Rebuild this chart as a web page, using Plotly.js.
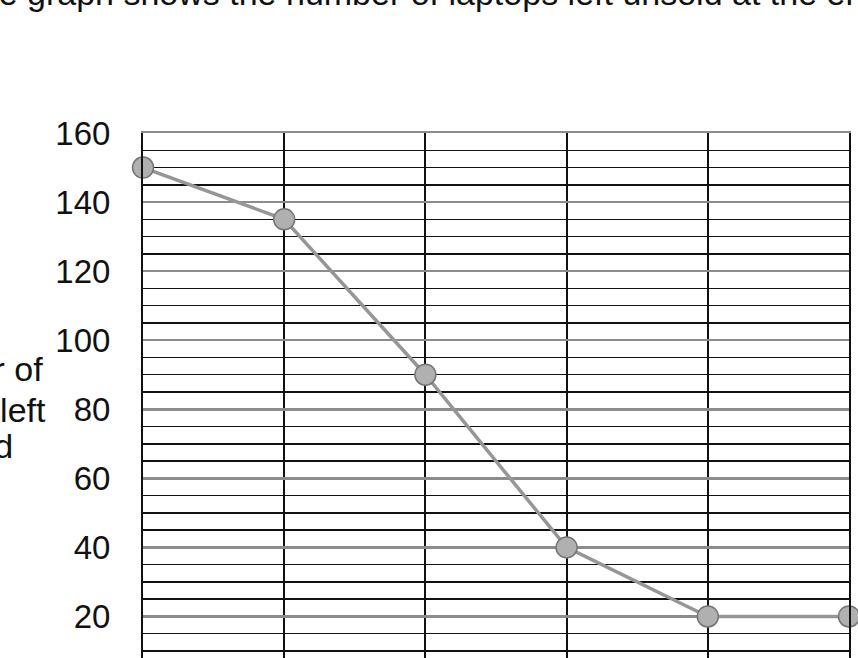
<!DOCTYPE html>
<html>
<head>
<meta charset="utf-8">
<script src="https://cdn.plot.ly/plotly-3.0.1.min.js"></script>
<style>
html, body { margin: 0; padding: 0; background: #fff; overflow: hidden; }
#chart { width: 858px; height: 658px; }
</style>
</head>
<body>
<div id="chart"></div>
<script>
// ---- data ----
const periods = [0, 1, 2, 3, 4, 5];
const laptopsUnsold = [150, 135, 90, 40, 20, 20];
const yTickValues = [20, 40, 60, 80, 100, 120, 140, 160];
const yTitleLines = ["Number of", "laptops left", "unsold"];
const captionText = "The graph shows the number of laptops left unsold at the end of each";

// ---- layout geometry ----
const W = 858, H = 658;
const M = { l: 143, r: 9, t: 133, b: 0 };
const plotW = W - M.l - M.r, plotH = H - M.t - M.b;
const pxX = p => (p - M.l) / plotW;          // page px -> paper x
const pxY = p => 1 - (p - M.t) / plotH;      // page px -> paper y

const font = 'Liberation Sans, Arial, sans-serif';

const trace = {
  x: periods,
  y: laptopsUnsold,
  type: 'scatter',
  mode: 'lines+markers',
  cliponaxis: false,
  line: { color: '#969696', width: 3.5 },
  marker: { size: 21, color: '#b0b0b0', line: { color: '#767676', width: 1.5 } },
  hoverinfo: 'skip'
};

const annotations = [];
const lineCentersPx = [369, 410, 446];
yTitleLines.forEach((t, i) => {
  annotations.push({
    text: t, xref: 'paper', yref: 'paper',
    x: pxX(-37), y: pxY(lineCentersPx[i]),
    xanchor: 'center', yanchor: 'middle', showarrow: false,
    font: { family: font, size: 34, color: '#111' }
  });
});
annotations.push({
  text: captionText, xref: 'paper', yref: 'paper',
  x: pxX(-43), y: pxY(14),
  xanchor: 'left', yanchor: 'bottom', showarrow: false,
  font: { family: font, size: 34, color: '#111' }
});

const layout = {
  width: W, height: H,
  margin: M,
  paper_bgcolor: '#fff', plot_bgcolor: '#fff',
  showlegend: false,
  font: { family: font, color: '#111' },
  xaxis: {
    range: [0, 5],
    tickvals: periods,
    showticklabels: false,
    showgrid: true, gridcolor: '#111', gridwidth: 2,
    zeroline: false,
    showline: true, mirror: true, linecolor: '#8c8c8c', linewidth: 2.5,
    ticks: ''
  },
  yaxis: {
    range: [7.97, 160],
    tickvals: yTickValues,
    showgrid: true, gridcolor: '#8c8c8c', gridwidth: 2.5,
    minor: { dtick: 5, tick0: 0, showgrid: true, gridcolor: '#111', gridwidth: 1.5, ticks: '' },
    zeroline: false,
    showline: true, mirror: true, linecolor: '#111', linewidth: 2,
    ticks: '', ticklabelstandoff: 24,
    tickfont: { family: font, size: 33, color: '#111' }
  },
  annotations: annotations
};

Plotly.newPlot('chart', [trace], layout, { staticPlot: true, displayModeBar: false });
</script>
</body>
</html>
